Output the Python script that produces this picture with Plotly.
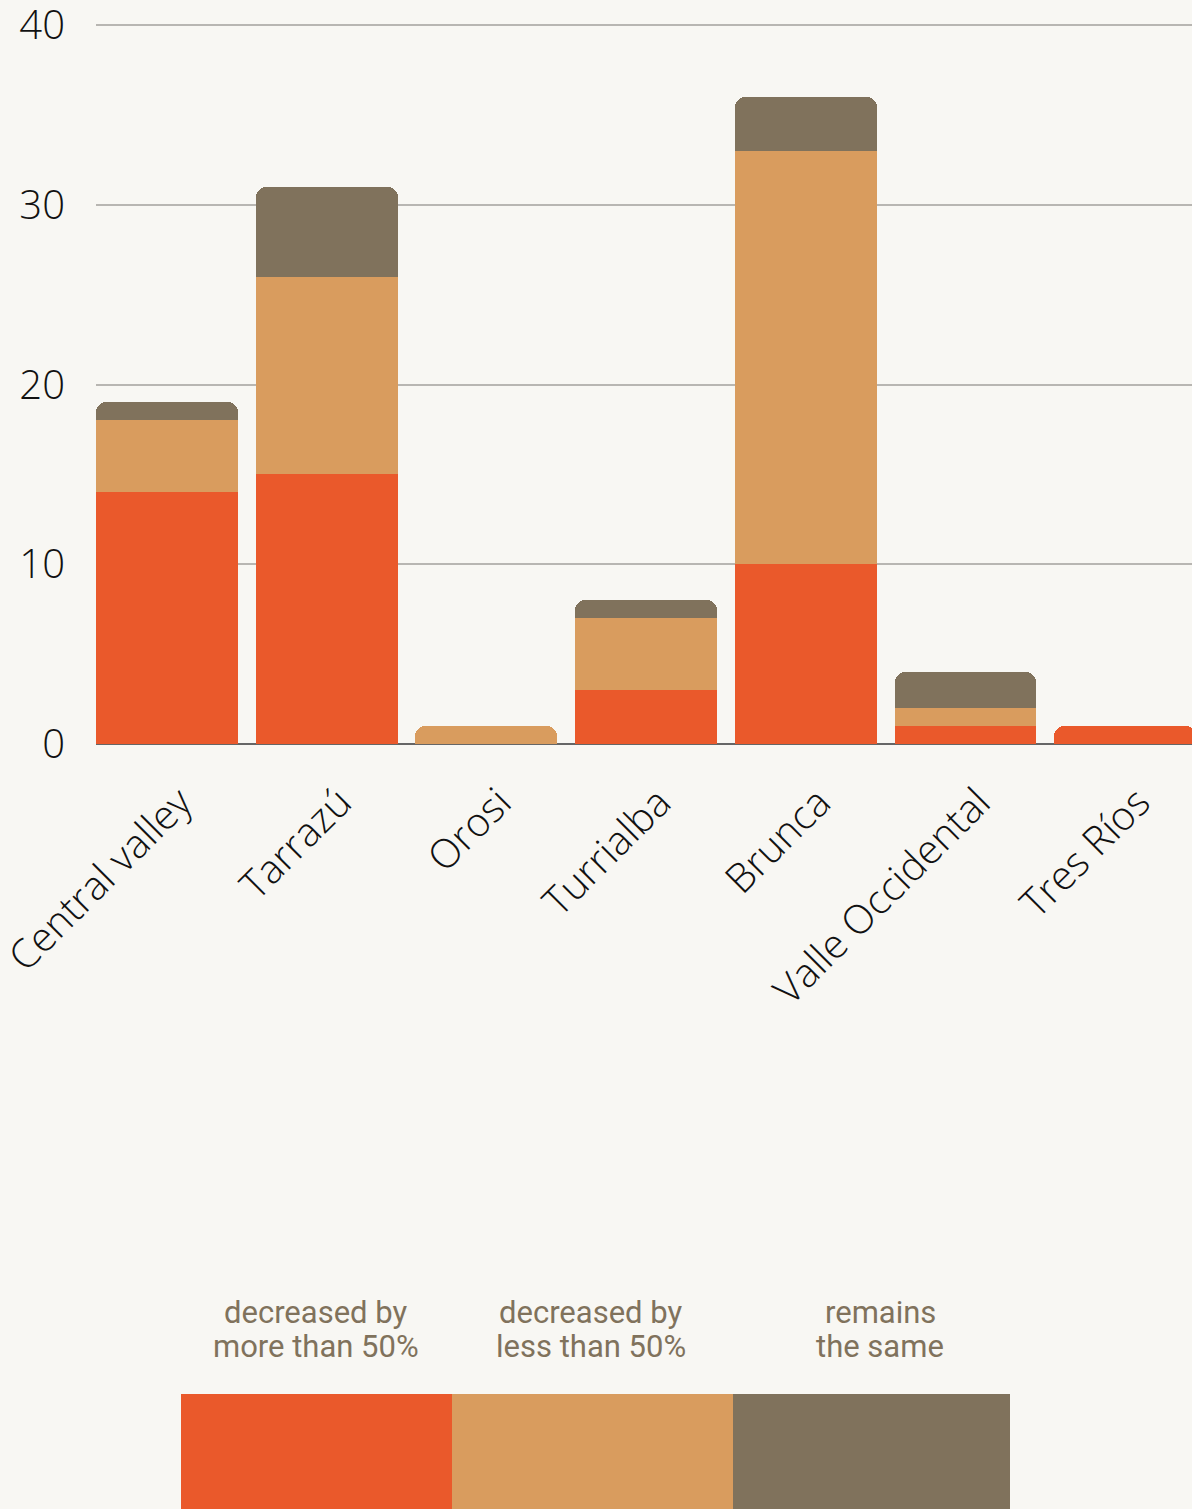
import plotly.graph_objects as go

categories = ["Central valley", "Tarrazú", "Orosi", "Turrialba", "Brunca", "Valle Occidental", "Tres Ríos"]
more_than_50 = [14, 15, 0, 3, 10, 1, 1]
less_than_50 = [4, 11, 1, 4, 23, 1, 0]
same = [1, 5, 0, 1, 3, 2, 0]
series_lines = [("decreased by", "more than 50%"), ("decreased by", "less than 50%"), ("remains", "the same")]
colors = ["#EA592B", "#D99C5E", "#80725C"]
y_ticks = [0, 10, 20, 30, 40]

W, H = 1192, 1509
L, T = 96, 10
Y0 = 744
B = H - Y0
BG = "#F8F7F3"
plot_h = Y0 - T

fig = go.Figure()
for vals, (l1, l2), col in zip([more_than_50, less_than_50, same], series_lines, colors):
    fig.add_trace(go.Bar(x=list(range(len(categories))), y=vals, name=l1 + " " + l2,
                         marker=dict(color=col, line=dict(width=0)),
                         width=0.889, showlegend=False))

band_px = 159.7
plot_w = W - L
left = -0.4445
right = left + plot_w / band_px
ymax = 40 * plot_h / (Y0 - 25)

fig.update_layout(
    width=W, height=H,
    margin=dict(l=L, r=0, t=T, b=B, pad=0, autoexpand=False),
    paper_bgcolor=BG, plot_bgcolor=BG,
    barmode="stack", barcornerradius=10,
    xaxis=dict(range=[left, right], tickmode="array", tickvals=list(range(len(categories))),
               ticktext=categories, tickangle=-45, showgrid=False, zeroline=False,
               showline=False, ticks="", ticklabelstandoff=26, ticklabelshift=13,
               ticklabeloverflow="allow", automargin=False,
               tickfont=dict(family="Open Sans", size=40, color="#111", weight=300)),
    yaxis=dict(range=[0, ymax], tickmode="array", tickvals=y_ticks, showgrid=True,
               gridcolor="#B8B6B2", gridwidth=1.5,
               zeroline=True, zerolinecolor="#666666", zerolinewidth=2, showline=False, ticks="",
               ticklabelstandoff=30, ticklabeloverflow="allow", automargin=False,
               tickfont=dict(family="Open Sans", size=40, color="#111", weight=300)),
    bargap=0,
)

def py(px):
    return (Y0 - px) / plot_h

def px_x(px):
    return (px - L) / plot_w

# legend drawn as boxes with labels
boxes = [(181, 452), (452, 733), (733, 1010)]
centers = [316, 591, 880]
for (x0, x1), cx, col, (l1, l2) in zip(boxes, centers, colors, series_lines):
    fig.add_shape(type="rect", xref="paper", yref="paper",
                  x0=px_x(x0), x1=px_x(x1), y0=py(H), y1=py(1394),
                  fillcolor=col, line=dict(width=0), layer="above")
    for txt, cy in [(l1, 1312), (l2, 1346)]:
        fig.add_annotation(xref="paper", yref="paper", x=px_x(cx), y=py(cy),
                           yanchor="middle", xanchor="center", text=txt, showarrow=False,
                           font=dict(family="Roboto", size=31, color="#80725C"))

fig.write_html("out.html")
